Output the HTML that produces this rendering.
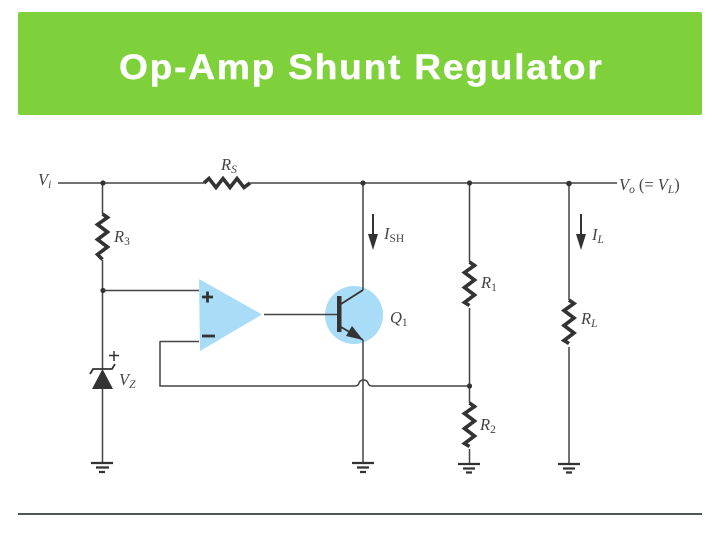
<!DOCTYPE html>
<html><head><meta charset="utf-8"><style>
html,body{margin:0;padding:0;background:#fff;width:720px;height:540px;overflow:hidden}
svg{display:block}
.w{fill:none;stroke:#444;stroke-width:1.5}
.r{fill:none;stroke:#333;stroke-width:3.6;stroke-linejoin:miter}
.l{font-family:"Liberation Serif",serif;font-style:italic;font-size:16.5px;fill:#444}
.s{font-size:11.5px}
</style></head><body>
<svg width="720" height="540" viewBox="0 0 720 540" xmlns="http://www.w3.org/2000/svg">
<rect width="720" height="540" fill="#fff"/>
<rect x="18" y="12" width="684" height="103" rx="2" fill="#7fd13b"/>
<text transform="translate(119,79) scale(1.06,1)" x="0" y="0" font-family="Liberation Sans, sans-serif" font-weight="700" font-size="35" letter-spacing="1.7" fill="#fff" stroke="#fff" stroke-width=".4">Op-Amp Shunt Regulator</text>
<rect x="18" y="513" width="684" height="2" fill="#505558"/>

<!-- blue shapes -->
<polygon points="199,279 262,314.5 200,351" fill="#a9dcf7"/>
<circle cx="354" cy="315" r="29" fill="#a9dcf7"/>

<!-- wires -->
<path class="w" d="M58 183H204M250 183H617"/>
<path class="w" d="M102.500 183V214M102.500 260V369M102.500 389V462"/>
<path class="w" d="M102.500 290.500H199"/>
<path class="w" d="M160 341.500H199M160 341V386H355q3 0 4-3 1-3 4.500-3 3.500 0 4.500 3 1 3 4 3H469.500"/>
<path class="w" d="M264 314.500H339"/>
<path class="w" d="M363 183V290M363 340V464"/>
<path class="w" d="M469.500 183V262M469.500 308V403M469.500 449V464"/>
<path class="w" d="M569 183V300M569 347V464"/>

<!-- resistors -->
<path class="r" d="M204 183l5-4.500 7 9 7-9 7 9 7-9 7 9 6-4.500"/>
<path class="r" d="M102.500 214l5 3.500-10 7 10 7.500-10 7.500 10 7.500-10 7.500 5 5"/>
<path class="r" d="M469.500 262l5 3.500-10 7 10 7.500-10 7.500 10 7.500-10 7.500 5 3"/>
<path class="r" d="M469.500 403l5 3.500-10 7 10 7.500-10 7.500 10 7.500-10 7.500 5 3"/>
<path class="r" d="M569 300l5 3.500-10 7 10 7.500-10 7.500 10 7.500-10 7.500 5 3"/>

<!-- nodes -->
<g fill="#333">
<circle cx="103" cy="183" r="2.600"/><circle cx="363" cy="183" r="2.600"/>
<circle cx="469.500" cy="183" r="2.600"/><circle cx="569" cy="183.500" r="2.800"/>
<circle cx="103" cy="290.500" r="2.600"/><circle cx="469.500" cy="386" r="2.600"/>
</g>

<!-- opamp signs -->
<path d="M207.500 291.500v11M202 297h11" stroke="#333" stroke-width="2.800" fill="none"/>
<path d="M202 336h13" stroke="#333" stroke-width="2.800" fill="none"/>

<!-- transistor -->
<rect x="337" y="296" width="4.500" height="36" fill="#333"/>
<path d="M341 304L363 290" stroke="#333" stroke-width="1.800" fill="none"/>
<path d="M341 327L363 340" stroke="#333" stroke-width="1.800" fill="none"/>
<polygon points="363,340 346,336 352,326" fill="#333"/>

<!-- zener -->
<polygon points="102.500,369 92,389 113,389" fill="#333"/>
<path d="M90 374l3-5H112l3-5" stroke="#333" stroke-width="1.800" fill="none"/>
<path d="M114 351v10M109 355.500h10" stroke="#333" stroke-width="1.500" fill="none"/>

<!-- grounds -->
<g stroke="#333" stroke-width="2.200">
<path d="M91 463H113M96 467.500H109M99 472H105"/>
<path d="M352 463H374M357 467.500H369M360 472H366"/>
<path d="M458 464H480M463 468.500H475M466 472.500H472"/>
<path d="M558 464H580M563 468.500H575M566 472.500H572"/>
</g>

<!-- current arrows -->
<path d="M373 214V236" stroke="#333" stroke-width="2"/><polygon points="368,234 378,234 373,250" fill="#333"/>
<path d="M581 214V236" stroke="#333" stroke-width="2"/><polygon points="576,234 586,234 581,250" fill="#333"/>

<!-- labels -->
<text class="l" x="38" y="185">V<tspan class="s" dy="3">i</tspan></text>
<text class="l" x="221" y="170">R<tspan class="s" dy="3">S</tspan></text>
<text class="l" x="114" y="242">R<tspan class="s" dy="3" font-style="normal">3</tspan></text>
<text class="l" x="384" y="239">I<tspan class="s" dy="3" font-style="normal">SH</tspan></text>
<text class="l" x="390" y="323">Q<tspan class="s" dy="3" font-style="normal">1</tspan></text>
<text class="l" x="119" y="385">V<tspan class="s" dy="3">Z</tspan></text>
<text class="l" x="481" y="288">R<tspan class="s" dy="3" font-style="normal">1</tspan></text>
<text class="l" x="480" y="430">R<tspan class="s" dy="3" font-style="normal">2</tspan></text>
<text class="l" x="581" y="324">R<tspan class="s" dy="3">L</tspan></text>
<text class="l" x="592" y="240">I<tspan class="s" dy="3">L</tspan></text>
<text class="l" x="619" y="190">V<tspan class="s" dy="3">o</tspan><tspan dy="-3" dx="4" font-style="normal">(= </tspan><tspan>V</tspan><tspan class="s" dy="3">L</tspan><tspan dy="-3" font-style="normal">)</tspan></text>
</svg>
</body></html>
